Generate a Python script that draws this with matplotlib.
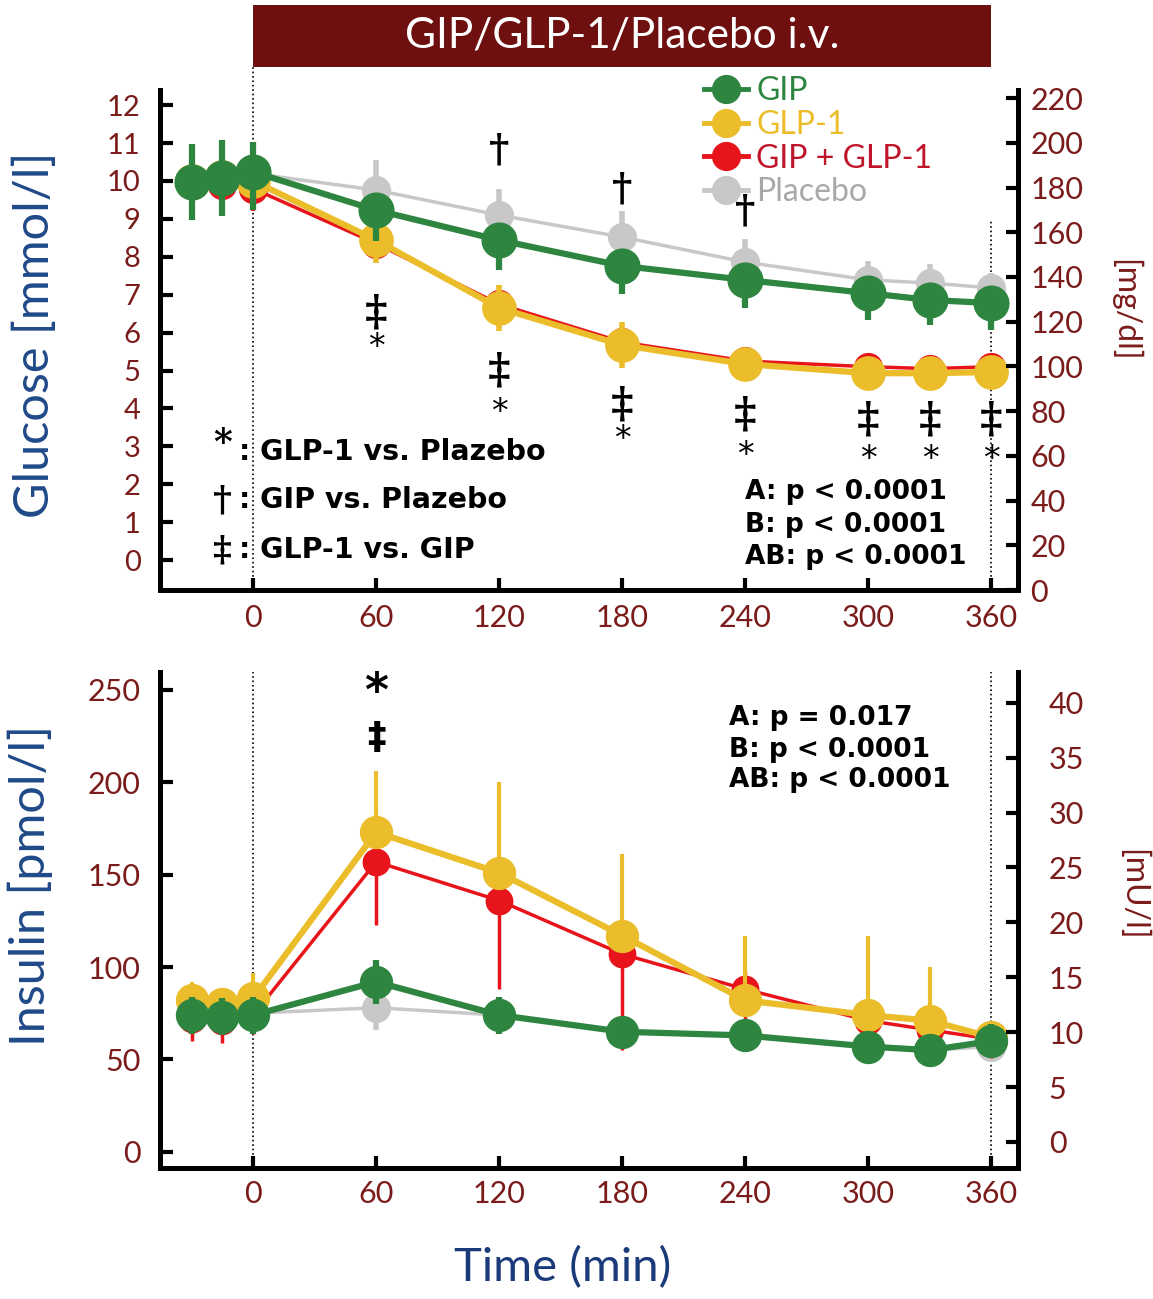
import matplotlib
matplotlib.use('Agg')
import matplotlib.pyplot as plt
from matplotlib.lines import Line2D
from matplotlib.patches import Rectangle
from matplotlib.transforms import blended_transform_factory

plt.rcParams['font.family'] = ['Lato', 'DejaVu Sans']

# --- data ---
times = [-30, -15, 0, 60, 120, 180, 240, 300, 330, 360]
groups = ['GIP', 'GLP-1', 'GIP + GLP-1', 'Placebo']

# glucose, mmol/l
glu_gip = [9.97, 10.08, 10.24, 9.23, 8.44, 7.76, 7.39, 7.04, 6.86, 6.78]
glu_glp1 = [10.0, 10.1, 10.0, 8.44, 6.65, 5.67, 5.17, 4.93, 4.93, 4.96]
glu_combo = [9.9, 9.9, 9.8, 8.35, 6.75, 5.75, 5.25, 5.1, 5.05, 5.1]
glu_plac = [10.0, 10.1, 10.2, 9.76, 9.1, 8.52, 7.86, 7.39, 7.31, 7.18]
glu_gip_lo = [1.0, 1.0, 1.0, 0.8, 0.8, 0.75, 0.75, 0.7, 0.65, 0.7]
glu_gip_hi = [1.0, 1.0, 0.8, 0.3, 0.3, 0.3, 0.3, 0.3, 0.3, 0.3]
glu_glp1_err = [0.6, 0.6, 0.6, 0.6, 0.6, 0.6, 0.3, 0.2, 0.2, 0.2]
glu_combo_err = [0.6, 0.6, 0.6, 0.5, 0.5, 0.4, 0.2, 0.2, 0.2, 0.2]
glu_plac_err = [0.8, 0.8, 0.8, 0.8, 0.7, 0.7, 0.6, 0.5, 0.5, 0.4]

# insulin, pmol/l
ins_gip = [74, 73, 74, 92, 74, 65, 63, 57, 55, 60]
ins_glp1 = [82, 80, 83, 173, 151, 117, 82, 74, 71, 62]
ins_combo = [72, 71, 74, 157, 136, 107, 88, 71, 66, 61]
ins_plac = [74, 74, 75, 78, 74, 65, 63, 57, 55, 57]
ins_gip_err = [10, 10, 10, 12, 10, 8, 8, 7, 7, 9]
ins_glp1_lo = [5, 5, 5, 5, 5, 5, 5, 5, 5, 5]
ins_glp1_hi = [10, 8, 14, 33, 49, 44, 35, 43, 29, 8]
ins_combo_lo = [12, 12, 10, 34, 48, 52, 20, 12, 10, 10]
ins_combo_hi = [8, 8, 8, 10, 10, 10, 10, 8, 8, 8]
ins_plac_err = [8, 8, 8, 12, 10, 8, 8, 7, 7, 7]

# significance marks (time, y)
dagger_t = [120, 180, 240]
dagger_y = [10.8, 9.78, 9.2]
ddag_t = [60, 120, 180, 240, 300, 330, 360]
ddag_y = [6.54, 5.0, 4.1, 3.83, 3.7, 3.7, 3.7]
star_t = [60, 120, 180, 240, 300, 330, 360]
star_y = [5.6, 3.9, 3.17, 2.77, 2.64, 2.64, 2.64]

xticks = [0, 60, 120, 180, 240, 300, 360]

c_gip = '#2e8540'
c_glp1 = '#ebbd2b'
c_combo = '#e8141b'
c_plac = '#c8c8c8'
c_tick = '#7b1c1c'
c_blue = '#1f4a88'

fig = plt.figure(figsize=(11.53, 12.99), dpi=100)
ax1 = fig.add_axes([0.1388, 0.5458, 0.7442, 0.3849])
ax2 = fig.add_axes([0.1388, 0.1009, 0.7442, 0.3818])


def style_axes(ax):
    for s in ['left', 'right', 'bottom']:
        ax.spines[s].set_linewidth(3.5)
    ax.spines['top'].set_visible(False)
    ax.tick_params(direction='in', length=9, width=3, colors='black',
                   labelcolor=c_tick, labelsize=22)
    ax.set_xlim(-45.4, 373)
    ax.set_xticks(xticks)
    ax.set_xticklabels([str(t) for t in xticks])


# --- glucose panel ---
style_axes(ax1)
ax1.set_ylim(-0.79, 12.4)
ax1.set_yticks(range(0, 13))
ax1.tick_params(axis='y', pad=14, labelsize=21)
ax1.tick_params(axis='x', pad=10)

ax1.errorbar(times, glu_plac, yerr=glu_plac_err, color=c_plac, lw=2.5,
             marker='o', ms=20, elinewidth=4, capsize=0, zorder=2)
ax1.errorbar(times, glu_combo, yerr=glu_combo_err, color=c_combo, lw=2.5,
             marker='o', ms=20, elinewidth=3, capsize=0, zorder=3)
ax1.errorbar(times, glu_glp1, yerr=glu_glp1_err, color=c_glp1, lw=4.5,
             marker='o', ms=24, elinewidth=4, capsize=0, zorder=4)
ax1.errorbar(times, glu_gip, yerr=[glu_gip_lo, glu_gip_hi], color=c_gip,
             lw=4.5, marker='o', ms=25, elinewidth=4.5, capsize=0, zorder=5)

bt = blended_transform_factory(ax1.transData, ax1.transAxes)
ax1.plot([0, 0], [0, 1.046], transform=bt, ls=':', color='k', lw=1.2,
         clip_on=False, zorder=1)
ax1.plot([360, 360], [0, 0.74], transform=bt, ls=':', color='k', lw=1.2,
         clip_on=False, zorder=1)

for t, y in zip(dagger_t, dagger_y):
    ax1.text(t, y, '†', ha='center', va='center', fontsize=28,
             fontweight='bold', family='DejaVu Serif', zorder=6)
for t, y in zip(ddag_t, ddag_y):
    ax1.text(t, y, '‡', ha='center', va='center', fontsize=31,
             fontweight='bold', family='DejaVu Serif', zorder=6)
for t, y in zip(star_t, star_y):
    ax1.text(t, y, '*', ha='center', va='center', fontsize=24,
             family='DejaVu Sans', zorder=6)

key_sym = ['*', '†', '‡']
key_txt = [': GLP-1 vs. Plazebo', ': GIP vs. Plazebo', ': GLP-1 vs. GIP']
key_y = [2.85, 1.58, 0.26]
for s, txt, y in zip(key_sym, key_txt, key_y):
    ax1.text(-15, y + (0.25 if s == '*' else 0), s, ha='center', va='center',
             fontsize=26, fontweight='bold', family='DejaVu Serif')
    ax1.text(-7, y, txt, ha='left', va='center', fontsize=20.5,
             fontweight='bold', family='DejaVu Sans')

for txt, y in zip(['A: p < 0.0001', 'B: p < 0.0001', 'AB: p < 0.0001'],
                  [1.79, 0.92, 0.08]):
    ax1.text(240, y, txt, ha='left', va='center', fontsize=19,
             fontweight='bold', family='DejaVu Sans')

handles = [Line2D([], [], color=c, lw=3.5, marker='o', ms=20)
           for c in [c_gip, c_glp1, c_combo, c_plac]]
leg = ax1.legend(handles, groups, loc='upper left',
                 bbox_to_anchor=(0.615, 1.06), frameon=False, fontsize=23,
                 handlelength=1.4, handletextpad=0.25, labelspacing=0.12,
                 borderpad=0)
for text, c in zip(leg.get_texts(), [c_gip, c_glp1, '#c0142a', '#a8a8a8']):
    text.set_color(c)

ax1r = ax1.twinx()
ax1r.set_ylim(0, 223.6)
ax1r.set_yticks(range(0, 221, 20))
for s in ['left', 'right', 'bottom']:
    ax1r.spines[s].set_linewidth(3.5)
ax1r.spines['top'].set_visible(False)
ax1r.tick_params(direction='in', length=9, width=3, labelcolor=c_tick,
                 labelsize=22, pad=9)

# title bar over the infusion period
ft = blended_transform_factory(ax1.transData, fig.transFigure)
ax1.add_patch(Rectangle((0, 0.9484), 360, 0.0478, transform=ft,
                        facecolor='#6e1010', edgecolor='none', clip_on=False))
ax1.text(180, 0.9723, 'GIP/GLP-1/Placebo i.v.', transform=ft, ha='center',
         va='center', color='white', fontsize=30.5)

# --- insulin panel ---
style_axes(ax2)
ax2.set_ylim(-8.7, 259.7)
ax2.set_yticks(range(0, 251, 50))
ax2.tick_params(axis='y', pad=14)
ax2.tick_params(axis='x', pad=9)

ax2.errorbar(times, ins_plac, yerr=ins_plac_err, color=c_plac, lw=2.5,
             marker='o', ms=20, elinewidth=4, capsize=0, zorder=2)
ax2.errorbar(times, ins_combo, yerr=[ins_combo_lo, ins_combo_hi],
             color=c_combo, lw=2.5, marker='o', ms=19, elinewidth=2.5,
             capsize=0, zorder=3)
ax2.errorbar(times, ins_glp1, yerr=[ins_glp1_lo, ins_glp1_hi], color=c_glp1,
             lw=4.5, marker='o', ms=23, elinewidth=3, capsize=0, zorder=4)
ax2.errorbar(times, ins_gip, yerr=ins_gip_err, color=c_gip, lw=4.5,
             marker='o', ms=23, elinewidth=4.5, capsize=0, zorder=5)

ax2.axvline(0, ls=':', color='k', lw=1.2, zorder=1)
ax2.axvline(360, ls=':', color='k', lw=1.2, zorder=1)

ax2.text(60, 248, '*', ha='center', va='center', fontsize=33,
         fontweight='bold', family='DejaVu Sans')
ax2.text(60, 224, '‡', ha='center', va='center', fontsize=27,
         fontweight='bold', family='DejaVu Sans')
for txt, y in zip(['A: p = 0.017', 'B: p < 0.0001', 'AB: p < 0.0001'],
                  [235, 217.5, 201]):
    ax2.text(232, y, txt, ha='left', va='center', fontsize=19,
             fontweight='bold', family='DejaVu Sans')

ax2r = ax2.twinx()
ax2r.set_ylim(-2.37, 42.8)
ax2r.set_yticks(range(0, 41, 5))
for s in ['left', 'right', 'bottom']:
    ax2r.spines[s].set_linewidth(3.5)
ax2r.spines['top'].set_visible(False)
ax2r.tick_params(direction='in', length=9, width=3, labelcolor=c_tick,
                 labelsize=22, pad=22)

# axis titles
fig.text(35 / 1153, 1 - 335 / 1299, 'Glucose [mmol/l]', rotation=90,
         ha='center', va='center', color=c_blue, fontsize=35)
fig.text(30 / 1153, 1 - 885 / 1299, 'Insulin [pmol/l]', rotation=90,
         ha='center', va='center', color=c_blue, fontsize=35)
fig.text(1125 / 1153, 1 - 310 / 1299, '[mg/dl]', rotation=270,
         ha='center', va='center', color=c_tick, fontsize=23)
fig.text(1132 / 1153, 1 - 895 / 1299, '[mU/l]', rotation=270,
         ha='center', va='center', color=c_tick, fontsize=23)
fig.text(563 / 1153, 1 - 1268 / 1299, 'Time (min)', ha='center',
         va='center', color='#1a3a7a', fontsize=34)

fig.savefig('out.png', dpi=100)
